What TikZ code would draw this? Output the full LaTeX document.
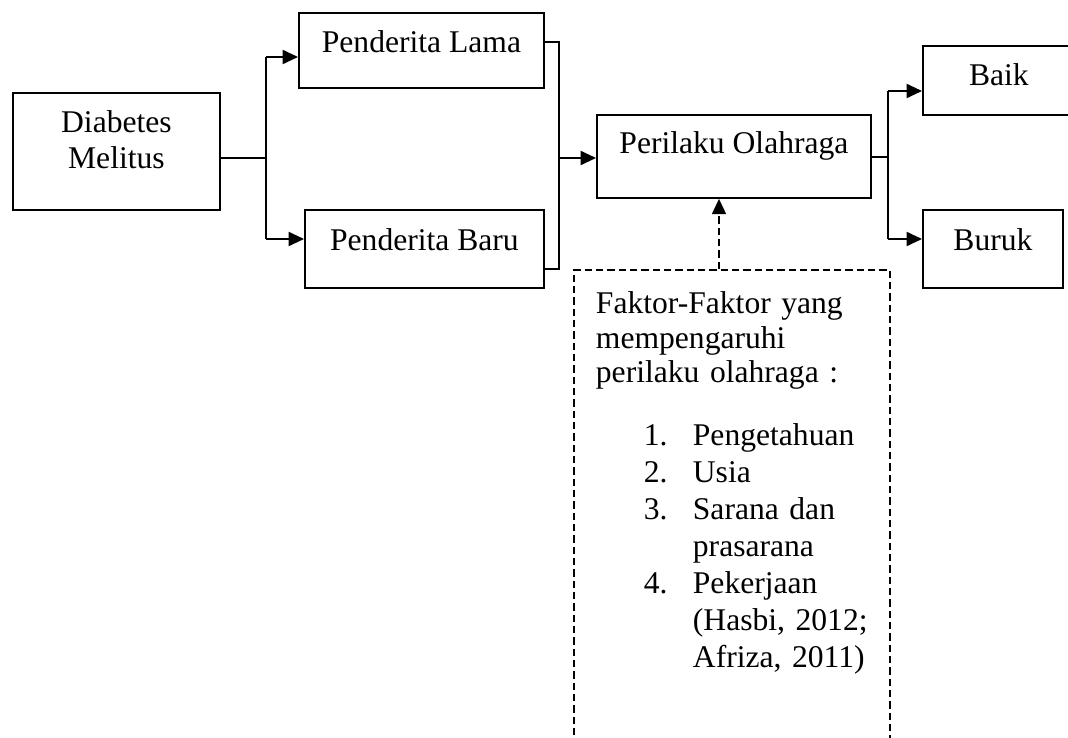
\documentclass[tikz,border=0pt]{standalone}
\usepackage{fontspec}
\setmainfont{Liberation Serif}
\usetikzlibrary{arrows.meta}

\newcommand{\butir}[2]{\hspace*{36pt}\makebox[36.75pt][l]{#1}#2}

\tikzset{
  kotak/.style={draw, line width=1.4pt, inner sep=0pt, anchor=north west,
    font=\fontsize{23.7}{27}\selectfont},
  garis/.style={line width=1.4pt},
  panah/.style={line width=1.4pt, -{Triangle[length=11.5pt,width=10.5pt]}},
}

\begin{document}
\begin{tikzpicture}[x=0.75pt,y=0.75pt,yscale=-1,xscale=1]
\useasboundingbox (0,0) rectangle (1068,738);
\clip (0,0) rectangle (1068,738);

%Shape: Rectangle
\node[kotak, minimum width=155.25pt, text height=30pt, text depth=57.75pt] (diabetes) at (12,92)
  {\begin{tabular}[t]{@{}c@{}}Diabetes\\Melitus\end{tabular}};
%Shape: Rectangle
\node[kotak, minimum width=183.75pt, text height=30pt, text depth=26.25pt] (lama) at (298,12) {Penderita Lama};
%Shape: Rectangle
\node[kotak, minimum width=179.25pt, text height=30.75pt, text depth=27.75pt] (baru) at (304,209) {Penderita Baru};
%Shape: Rectangle
\node[kotak, minimum width=205.5pt, text height=29.25pt, text depth=33pt] (perilaku) at (596,114) {Perilaku Olahraga};
%Shape: Rectangle
\node[kotak, minimum width=114pt, text height=30pt, text depth=21.75pt] (baik) at (922,45) {Baik};
%Shape: Rectangle
\node[kotak, minimum width=105pt, text height=30.75pt, text depth=27.75pt] (buruk) at (922,209) {Buruk};

% Text Node
\node[kotak, dash pattern=on 5.5pt off 3pt, inner xsep=16.5pt, text width=204pt, align=left,
  text height=33pt, text depth=365pt, font=\fontsize{23.7}{25.9}\selectfont] (faktor) at (573,269)
  {Faktor-Faktor yang\\
   mempengaruhi\\
   perilaku olahraga :\\[21.35pt]
   \butir{1.}{Pengetahuan}\\[1.85pt]
   \butir{2.}{Usia}\\[1.85pt]
   \butir{3.}{Sarana dan}\\[1.85pt]
   \butir{}{prasarana}\\[1.85pt]
   \butir{4.}{Pekerjaan}\\[1.85pt]
   \butir{}{(Hasbi, 2012;}\\[1.85pt]
   \butir{}{Afriza, 2011)}};

%Straight Lines
\coordinate (f0) at (266,158);
\coordinate (f1) at (266,57);
\coordinate (f2) at (266,239);
\draw[garis] (diabetes.east |- f0) -- (f0);
\draw[garis] (f1) -- (f2);
\draw[panah] (f1) -- (f1 -| lama.west);
\draw[panah] (f2) -- (f2 -| baru.west);

%Straight Lines
\coordinate (m0) at (559,158);
\coordinate (m1) at (559,42);
\coordinate (m2) at (559,269);
\draw[garis] (m1 -| lama.east) -- (m1) -- (m2) -- (m2 -| baru.east);
\draw[panah] (m0) -- (m0 -| perilaku.west);

%Straight Lines
\coordinate (g0) at (888,157);
\coordinate (g1) at (888,91);
\coordinate (g2) at (888,239);
\draw[garis] (perilaku.east |- g0) -- (g0);
\draw[garis] (g1) -- (g2);
\draw[panah] (g1) -- (g1 -| baik.west);
\draw[panah] (g2) -- (g2 -| buruk.west);

%Straight Lines
\coordinate (d0) at (719,0);
\draw[panah, dash pattern=on 5.5pt off 3pt] (d0 |- faktor.north) -- (d0 |- perilaku.south);

\end{tikzpicture}
\end{document}
